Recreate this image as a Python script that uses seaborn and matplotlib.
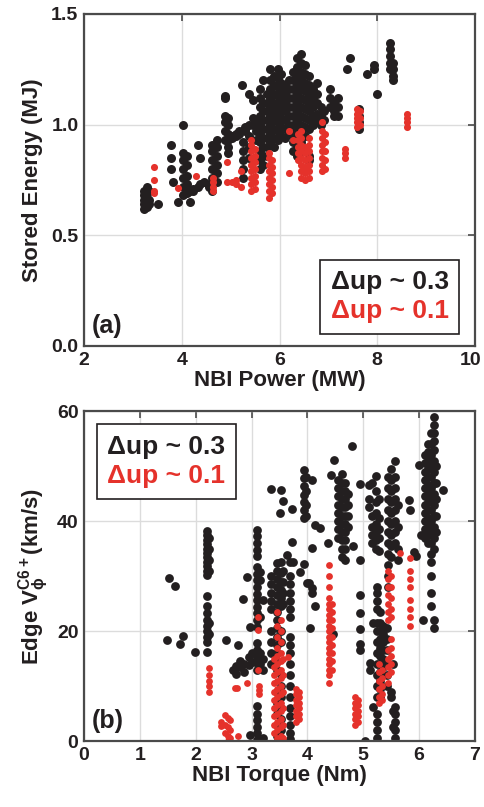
import matplotlib
matplotlib.use("Agg")
import matplotlib.pyplot as plt
import matplotlib.transforms as mtrans
import seaborn as sns
import pandas as pd

# ---------------- data ----------------
# Panel (a): NBI power (MW) vs stored energy (MJ); stripes of (x, [y...])
power_black = [
    (3.22, [0.62, 0.64, 0.66, 0.68, 0.70]),
    (3.28, [0.63, 0.65, 0.67, 0.69, 0.71, 0.72]),
    (3.33, [0.64, 0.66, 0.70]),
    (3.52, [0.64]),
    (3.77, [0.91, 0.85, 0.80]),
    (3.83, [0.74]),
    (3.92, [0.65]),
    (4.03, [1.00]),
    (4.02, [0.68, 0.72, 0.76, 0.80, 0.84, 0.87]),
    (4.10, [0.69, 0.73, 0.77, 0.82, 0.86]),
    (4.17, [0.65, 0.70]),
    (4.24, [0.70, 0.71]),
    (4.33, [0.91, 0.72]),
    (4.38, [0.85, 0.73]),
    (4.46, [0.74]),
    (4.55, [0.73, 0.72]),
    (4.62, [0.70, 0.73, 0.76, 0.80, 0.84, 0.88, 0.91]),
    (4.72, [0.74, 0.78, 0.82, 0.86, 0.90, 0.93]),
    (4.88, [1.12, 1.13, 0.93, 0.97, 1.01, 1.04]),
    (4.95, [0.87, 0.90, 0.93, 0.96, 1.00, 1.03]),
    (5.02, [0.94, 0.95]),
    (5.10, [0.95, 0.96]),
    (5.18, [0.96, 0.97]),
    (5.24, [1.18]),
    (5.26, [0.76, 0.80, 0.84, 0.88, 0.92]),
    (5.30, [0.97, 0.98, 0.99]),
    (5.38, [1.14, 1.00, 0.95, 0.90, 0.85]),
    (5.45, [1.11, 1.03, 1.00]),
    (5.52, [1.02, 0.97, 0.93]),
    (5.60, [1.16, 1.12, 1.08, 1.04, 1.00, 0.96, 0.92, 0.88, 0.84, 0.80]),
    (5.67, [1.20, 1.10, 1.06, 1.02, 0.98, 0.94, 0.90, 0.86, 0.82]),
    (5.74, [1.14, 1.10, 1.06, 1.02, 0.98, 0.94, 0.90, 0.86]),
    (5.80, [1.25, 1.20, 1.16, 1.12, 1.08, 1.04, 1.00, 0.96, 0.92]),
    (5.88, [1.22, 1.18, 1.14, 1.10, 1.06, 1.02, 0.98, 0.94, 0.90]),
    (5.96, [1.25, 1.21, 1.17, 1.13, 1.09, 1.05, 1.01, 0.97, 0.93]),
    (6.04, [1.23, 1.19, 1.15, 1.11, 1.07, 1.03, 0.99, 0.95]),
    (6.12, [1.18, 1.14, 1.10, 1.06, 1.02, 0.98, 0.94]),
    (6.20, [1.20, 1.16, 1.12, 1.08, 1.04, 1.00, 0.96]),
    (6.28, [1.24, 1.20, 1.16, 1.12, 1.08, 1.04, 1.00, 0.96, 0.92, 0.88]),
    (6.36, [1.30, 1.26, 1.22, 1.18, 1.14, 1.10, 1.06, 1.02, 0.98, 0.94, 0.90, 0.86]),
    (6.44, [1.32, 1.28, 1.24, 1.20, 1.16, 1.12, 1.08, 1.04, 1.00, 0.96, 0.92, 0.88]),
    (6.52, [1.27, 1.23, 1.19, 1.15, 1.11, 1.07, 1.03, 0.99, 0.95]),
    (6.60, [1.22, 1.18, 1.14, 1.10, 1.06, 1.02, 0.98, 0.86, 0.84]),
    (6.68, [1.16, 1.12, 1.08, 1.04, 1.00]),
    (6.76, [1.19, 1.14, 1.10, 1.05, 1.02]),
    (6.84, [1.08, 1.04, 1.00]),
    (6.92, [1.06, 1.02]),
    (7.04, [1.16, 1.12, 1.08]),
    (7.12, [1.10, 1.06, 1.04]),
    (7.20, [1.12, 1.08, 1.04]),
    (7.38, [1.25]),
    (7.45, [1.30]),
    (7.62, [1.07, 1.04, 1.01, 0.98]),
    (7.80, [1.23]),
    (7.93, [1.25, 1.27]),
    (7.99, [1.14]),
    (8.26, [1.37, 1.34, 1.31, 1.28, 1.25]),
    (8.33, [1.28, 1.25, 1.22, 1.20]),
]
power_red = [
    (3.44, [0.81, 0.75, 0.70, 0.69]),
    (3.93, [0.715]),
    (4.30, [0.77]),
    (4.64, [0.70, 0.72, 0.74, 0.76]),
    (4.92, [0.83, 0.74]),
    (5.02, [0.74]),
    (5.12, [0.75, 0.73]),
    (5.22, [0.72, 0.79]),
    (5.42, [0.70, 0.73, 0.76, 0.79, 0.82, 0.85, 0.88, 0.91, 0.93]),
    (5.50, [0.71, 0.74, 0.77, 0.80, 0.83, 0.86, 0.89]),
    (5.78, [0.67, 0.70, 0.73, 0.76, 0.79, 0.82, 0.85, 0.87]),
    (5.84, [0.69, 0.72, 0.75, 0.78, 0.81, 0.84]),
    (6.20, [0.97, 0.78]),
    (6.27, [0.93]),
    (6.38, [0.84, 0.87, 0.90, 0.93, 0.96]),
    (6.45, [0.76, 0.79, 0.82, 0.85, 0.88, 0.91, 0.94, 0.97]),
    (6.52, [0.75, 0.78, 0.81, 0.84, 0.87, 0.90]),
    (6.60, [0.76, 0.79, 0.82, 0.85, 0.88, 0.91, 0.94]),
    (6.87, [0.79, 0.82, 0.85, 0.88, 0.91, 0.94, 0.97, 1.01]),
    (6.93, [0.80, 0.84, 0.88, 0.92, 0.96]),
    (7.33, [0.85, 0.87, 0.89]),
    (7.58, [0.99, 1.01, 1.03, 1.05, 1.07]),
    (7.64, [1.00, 1.03, 1.06]),
    (8.60, [0.99, 1.01, 1.03, 1.05]),
]

# Panel (b): NBI torque (Nm) vs edge rotation (km/s)
torque_black = [
    (1.48, [18.4]), (1.53, [29.6]), (1.63, [28.2]), (1.71, [17.7]),
    (1.77, [19.1]), (1.99, [16.2]),
    (2.20, [38.2, 37.4, 36.6, 35.8, 35.0, 34.2, 33.4, 32.6, 31.8, 31.0, 30.2,
            26.4, 24.6, 23.2, 22.0, 21.0, 20.0, 19.0, 18.0, 16.2]),
    (2.24, [37.0, 35.0, 33.0, 31.0, 21.5, 19.5]),
    (2.55, [18.4]), (2.76, [17.5]),
    (2.66, [13.0]), (2.72, [13.6, 12.2]), (2.80, [14.6, 13.4]),
    (2.87, [14.0, 12.6]), (2.95, [15.2, 13.8]), (3.00, [16.0, 14.4]),
    (2.85, [25.9]), (2.91, [29.9]), (2.97, [20.8, 1.1]),
    (3.09, [38.4, 37.2, 36.0, 34.8, 33.6, 31.6, 30.4, 29.2, 28.0, 26.8, 25.6,
            24.4, 23.2, 22.0, 20.8, 17.8, 16.6, 15.4, 14.2, 13.0, 6.3, 5.0,
            3.8, 2.6, 1.4, 0.2]),
    (3.15, [30.8, 29.2, 22.6, 16.0, 14.0]),
    (3.21, [25.6, 0.5, 15.0, 13.0]),
    (3.35, [30.0, 28.5, 27.0, 25.5, 24.0, 20.0, 18.0, 16.0, 14.0]),
    (3.45, [32.3, 31.0, 29.5, 28.0, 26.5, 25.0, 23.5, 22.0, 20.5, 19.0, 17.5,
            16.0, 14.5, 13.0, 9.0, 7.0, 5.0, 3.0, 1.0]),
    (3.52, [32.6, 30.5, 29.0, 27.5, 26.0, 24.5, 20.0, 18.0, 12.0, 10.0, 8.0,
            6.0, 4.0, 2.0, 0.3, 45.6]),
    (3.57, [31.0, 29.0, 27.0, 25.0, 43.6]),
    (3.34, [45.9]), (3.51, [41.4]), (3.63, [33.8]), (3.72, [36.2, 42.1]),
    (3.69, [32.6, 30.0, 28.5, 27.0, 25.5, 24.0, 22.5, 19.0, 17.5, 16.0, 14.0,
            12.0, 10.0, 8.0, 6.0, 4.5, 3.0, 1.5, 0.3]),
    (3.75, [32.6]), (3.87, [30.8]), (3.99, [28.7]),
    (3.93, [49.3, 47.8, 46.4, 44.8, 43.4, 42.0, 40.6, 32.1]),
    (3.97, [48.0, 45.5, 43.0, 41.0]),
    (4.09, [47.4, 35.1]), (4.14, [39.3, 24.6]), (4.23, [38.8]),
    (4.02, [28.8]), (4.08, [27.9, 27.0]), (4.05, [20.6]),
    (4.37, [36.0]), (4.48, [51.1]), (4.43, [48.4]), (4.46, [19.5]),
    (4.55, [47.5, 46.0, 44.5, 43.0, 41.5, 40.0, 38.5, 37.0]),
    (4.62, [48.5, 47.0, 45.5, 44.0, 42.5, 41.0, 39.5, 38.0, 36.5, 35.0, 33.5]),
    (4.68, [47.0, 45.5, 44.0, 42.5, 41.0, 39.5, 38.0, 36.5, 35.0, 33.0]),
    (4.72, [45.0, 43.0, 41.0, 39.0]),
    (4.82, [35.4]), (4.80, [53.6]),
    (4.94, [46.8, 33.0, 26.6, 23.3, 20.3, 17.6, 16.5]),
    (5.03, [0.0]),
    (5.10, [46.5, 44.0, 42.5]),
    (5.15, [47.0, 41.0, 39.0, 37.5, 36.0]),
    (5.22, [48.2, 45.5, 43.5, 41.5, 39.5, 38.0, 36.5, 35.0]),
    (5.28, [44.0, 40.5, 38.5, 37.0, 34.5]),
    (5.44, [48.0, 46.0, 44.0, 42.0, 40.0, 38.0, 36.0, 34.0, 32.0, 30.0, 28.0]),
    (5.50, [49.5, 47.5, 45.5, 43.5, 41.5, 39.5, 37.5, 35.5, 33.5]),
    (5.57, [51.0, 48.0, 46.0, 44.0, 42.0, 40.0, 38.0, 36.0]),
    (5.62, [43.0, 39.0, 35.0, 33.0]),
    (5.81, [43.8]), (5.84, [42.0]), (5.90, [34.4]), (5.95, [33.6]),
    (5.12, [14.1, 13.0]),
    (5.18, [6.2, 21.5]),
    (5.24, [28.0, 27.0, 25.5, 24.0, 21.5, 20.0, 18.0, 16.0, 14.0, 12.0, 10.0,
            8.0, 5.0, 3.5, 2.0, 0.5]),
    (5.30, [23.5, 21.5, 20.0, 18.5, 17.0, 15.5, 14.0, 12.5, 11.0, 9.5, 8.0]),
    (5.36, [21.0, 19.5, 18.0, 16.5, 15.0, 13.5]),
    (5.43, [20.5, 18.5, 16.5, 14.0, 12.0, 10.0]),
    (5.50, [9.0, 8.0]),
    (5.56, [6.2, 5.0, 3.5, 2.0, 0.5]),
    (5.53, [14.0, 5.5, 2.5]),
    (6.03, [37.4]), (5.99, [50.1]), (6.07, [22.0]), (6.43, [45.6]),
    (6.10, [52.0, 50.5, 49.0, 47.5, 46.0, 44.5, 43.0, 41.5, 40.0, 38.5, 37.0]),
    (6.16, [54.0, 52.5, 51.0, 49.5, 48.0, 46.5, 45.0, 43.5, 42.0, 40.5, 39.0,
            37.5, 36.0]),
    (6.21, [56.0, 54.0, 52.0, 50.0, 48.0, 46.0, 44.0, 42.0, 40.0, 38.0, 36.0,
            34.0, 32.5, 30.0, 27.0, 24.5]),
    (6.26, [59.0, 57.5, 56.0, 54.5, 53.0, 51.0, 49.0, 47.0, 45.0, 43.0, 41.0,
            39.0, 37.0, 35.0, 20.6, 22.0]),
    (6.30, [50.0, 47.0, 44.0, 41.0, 38.0]),
]
torque_red = [
    (2.23, [13.2, 12.0, 11.0, 10.0, 9.0]),
    (2.46, [3.5, 2.8]),
    (2.52, [4.7, 3.0, 1.5]),
    (2.58, [4.2, 2.5, 1.0, 0.0]),
    (2.62, [3.8, 2.0, 0.5]),
    (2.76, [1.0]), (2.70, [9.6]), (2.74, [9.6]), (2.91, [10.5]),
    (3.12, [22.6, 20.2, 12.9]),
    (3.14, [10.0, 9.2, 8.6]),
    (3.40, [15.0, 13.5, 12.0, 10.5, 9.0, 7.5, 6.0, 4.5, 3.0, 1.5]),
    (3.46, [23.5, 21.0, 19.0, 17.0, 15.5, 14.0, 12.5, 11.0, 9.5, 8.0, 6.5,
            5.0, 3.5, 2.0, 0.5]),
    (3.52, [22.0, 20.0, 18.0, 16.0, 14.5, 13.0, 11.5, 10.0, 8.5, 7.0, 5.5,
            4.0, 2.5, 1.0, 0.0]),
    (3.56, [15.0, 12.0, 9.0, 6.0, 3.0, 0.5]),
    (3.66, [15.3]),
    (3.79, [9.5, 8.5, 7.5, 6.5, 5.5, 4.5, 3.5]),
    (3.85, [9.0, 8.0, 7.0, 6.0, 5.0, 4.0]),
    (4.38, [32.0, 30.0, 28.0, 26.0, 25.0, 24.0, 23.0, 22.0, 21.0, 20.0, 19.0,
            18.0, 17.0, 16.0, 15.0, 14.0, 13.0, 12.0, 10.5]),
    (4.44, [25.0, 23.5, 22.0, 20.5, 19.0, 17.5, 16.0, 14.5, 13.0]),
    (4.86, [8.0, 7.0, 6.0, 5.0, 4.0, 3.0]),
    (4.90, [7.5, 6.5, 5.5, 4.5, 3.5]),
    (5.28, [14.0, 12.5, 11.0, 9.5, 8.0, 7.0]),
    (5.34, [13.0, 11.5, 10.0, 8.5, 7.5]),
    (5.44, [31.0, 29.5, 28.0, 26.5, 25.0, 23.5, 22.0, 16.5, 15.0, 13.5, 12.0, 10.5]),
    (5.50, [30.0, 28.0, 26.0, 24.0, 22.5, 18.5, 17.0, 15.5, 14.0, 12.5]),
    (5.66, [34.1]),
    (5.83, [33.2, 31.0, 29.5, 28.0, 25.7, 24.0, 22.5, 21.0]),
]

groups = ["\u0394up ~ 0.3", "\u0394up ~ 0.1"]
colors = {"\u0394up ~ 0.3": "#231f20", "\u0394up ~ 0.1": "#e5322b"}


def to_frame(stripes, xname, yname, group):
    xs, ys = [], []
    for x, yl in stripes:
        for y in yl:
            xs.append(x)
            ys.append(y)
    return pd.DataFrame({xname: xs, yname: ys, "group": group})


sns.set_theme(style="white")
plt.rcParams["font.family"] = ["Liberation Sans", "DejaVu Sans"]
plt.rcParams["font.weight"] = "bold"
plt.rcParams["mathtext.fontset"] = "custom"
plt.rcParams["mathtext.rm"] = "Liberation Sans:bold"
plt.rcParams["mathtext.it"] = "Liberation Sans:bold"
plt.rcParams["mathtext.bf"] = "Liberation Sans:bold"

fig = plt.figure(figsize=(4.84, 8.07), dpi=100)
ax1 = fig.add_axes([84 / 484, 1 - 346 / 807, 391 / 484, 332 / 807])
ax2 = fig.add_axes([84 / 484, 1 - 741 / 807, 391 / 484, 330 / 807])

ink = "#231f20"
spine_c = "#4a4a4a"


def style(ax):
    ax.grid(True, color="#dcdcdc", lw=1.0)
    ax.set_axisbelow(True)
    for s in ax.spines.values():
        s.set_color(spine_c)
        s.set_linewidth(1.6)
    ax.tick_params(direction="in", top=True, right=True, length=5, width=1.2,
                   color=spine_c, labelsize=14, labelcolor=ink, pad=4)
    for lab in ax.get_xticklabels() + ax.get_yticklabels():
        lab.set_fontweight("bold")


def make_legend(ax, loc, anchor):
    from matplotlib.lines import Line2D
    handles = [Line2D([], [], lw=0, marker=None) for _ in groups]
    leg = ax.legend(handles, groups, loc=loc, bbox_to_anchor=anchor,
                    handlelength=0, handletextpad=0, fancybox=False,
                    framealpha=1, edgecolor=ink, borderpad=0.4,
                    labelspacing=0.2, prop={"size": 19, "weight": "bold"},
                    borderaxespad=0)
    leg.get_frame().set_linewidth(1.2)
    for t, g in zip(leg.get_texts(), groups):
        t.set_color(colors[g])
    return leg


# Panel (a)
dfa_b = to_frame(power_black, "power", "energy", groups[0])
dfa_r = to_frame(power_red, "power", "energy", groups[1])
sns.scatterplot(data=dfa_b, x="power", y="energy", color=colors[groups[0]],
                s=42, linewidth=0, ax=ax1, legend=False)
sns.scatterplot(data=dfa_r, x="power", y="energy", color=colors[groups[1]],
                s=26, linewidth=0, ax=ax1, legend=False)
ax1.set_xlim(2, 10)
ax1.set_ylim(0, 1.5)
ax1.set_xticks([2, 4, 6, 8, 10])
ax1.set_yticks([0.0, 0.5, 1.0, 1.5])
ax1.set_yticklabels(["0.0", "0.5", "1.0", "1.5"])
ax1.set_xlabel("NBI Power (MW)", fontsize=16, fontweight="bold", color=ink, labelpad=1)
ax1.set_ylabel("Stored Energy (MJ)", fontsize=16, fontweight="bold", color=ink, labelpad=6)
style(ax1)
# keep the last tick label ("10") inside the figure
last = ax1.get_xticklabels()[-1]
last.set_transform(last.get_transform() +
                   mtrans.ScaledTranslation(-4 / 100, 0, fig.dpi_scale_trans))
ax1.text(0.02, 0.025, "(a)", transform=ax1.transAxes, fontsize=18,
         fontweight="bold", color=ink, ha="left", va="bottom")
make_legend(ax1, "lower right", (0.96, 0.036))

# Panel (b)
dfb_b = to_frame(torque_black, "torque", "vphi", groups[0])
dfb_r = to_frame(torque_red, "torque", "vphi", groups[1])
sns.scatterplot(data=dfb_b, x="torque", y="vphi", color=colors[groups[0]],
                s=40, linewidth=0, ax=ax2, legend=False)
sns.scatterplot(data=dfb_r, x="torque", y="vphi", color=colors[groups[1]],
                s=24, linewidth=0, ax=ax2, legend=False)
ax2.set_xlim(0, 7)
ax2.set_ylim(0, 60)
ax2.set_xticks(range(0, 8))
ax2.set_yticks([0, 20, 40, 60])
ax2.set_xlabel("NBI Torque (Nm)", fontsize=16, fontweight="bold", color=ink, labelpad=1)
ax2.set_ylabel(r"Edge V$_{\phi}^{\mathrm{C6+}}$(km/s)", fontsize=16,
               fontweight="bold", color=ink, labelpad=4)
style(ax2)
ax2.text(0.02, 0.025, "(b)", transform=ax2.transAxes, fontsize=18,
         fontweight="bold", color=ink, ha="left", va="bottom")
make_legend(ax2, "upper left", (0.033, 0.96))

fig.savefig("out.png", dpi=100)
